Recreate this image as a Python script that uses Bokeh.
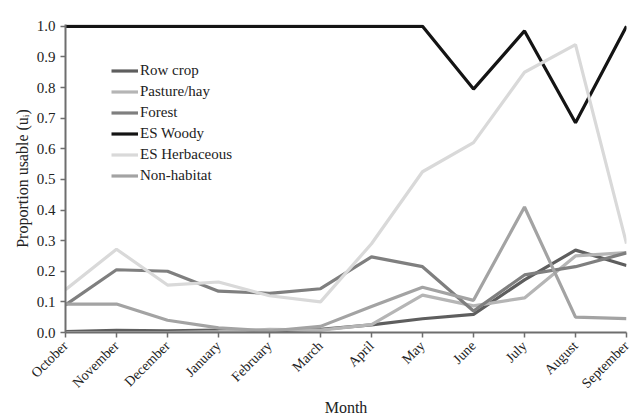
import math
from bokeh.plotting import figure
from bokeh.models import Range1d, FixedTicker, Legend, LegendItem
from bokeh.embed import file_html
from bokeh.resources import INLINE

months = ["October", "November", "December", "January", "February", "March",
          "April", "May", "June", "July", "August", "September"]

row_crop = [0.003, 0.007, 0.005, 0.008, 0.005, 0.010, 0.025, 0.045, 0.059, 0.172, 0.269, 0.219]
pasture_hay = [0.000, 0.000, 0.000, 0.003, 0.010, 0.008, 0.026, 0.122, 0.087, 0.113, 0.250, 0.261]
forest = [0.090, 0.205, 0.200, 0.135, 0.128, 0.143, 0.247, 0.215, 0.070, 0.188, 0.215, 0.260]
es_woody = [1.0, 1.0, 1.0, 1.0, 1.0, 1.0, 1.0, 1.0, 0.795, 0.985, 0.685, 1.0]
es_herb = [0.140, 0.272, 0.155, 0.165, 0.120, 0.100, 0.290, 0.525, 0.620, 0.850, 0.940, 0.290]
non_habitat = [0.093, 0.093, 0.040, 0.015, 0.005, 0.020, 0.085, 0.148, 0.105, 0.410, 0.050, 0.045]

series_names = ["Row crop", "Pasture/hay", "Forest", "ES Woody", "ES Herbaceous", "Non-habitat"]
series_values = [row_crop, pasture_hay, forest, es_woody, es_herb, non_habitat]
colors = ["#5e5e5e", "#b5b5b5", "#7f7f7f", "#141414", "#d9d9d9", "#a3a3a3"]

y_ticks = [0.0, 0.1, 0.2, 0.3, 0.4, 0.5, 0.6, 0.7, 0.8, 0.9, 1.0]

x = list(range(len(months)))
font = "Liberation Serif"

p = figure(width=635, height=409, output_backend="svg", toolbar_location=None,
           x_range=Range1d(0, 11), y_range=Range1d(0, 1.006),
           min_border_left=57, min_border_right=17, min_border_top=14, min_border_bottom=84)
p.margin = (10, 0, 0, 8)

p.outline_line_color = None
p.grid.visible = False
p.background_fill_color = "white"
p.border_fill_color = "white"

items = []
for name, vals, col in zip(series_names, series_values, colors):
    r = p.line(x, vals, line_color=col, line_width=3.2)
    items.append(LegendItem(label=name, renderers=[r]))

legend = Legend(items=items, location=(46, 146), padding=0, margin=0, spacing=0,
                glyph_width=27, glyph_height=21, label_height=21, label_standoff=2,
                label_text_font=font, label_text_font_size="15px",
                label_text_color="#222222", background_fill_alpha=0, border_line_color=None)
p.add_layout(legend, "center")

p.xaxis.ticker = FixedTicker(ticks=x)
p.xaxis.major_label_overrides = {i: m for i, m in enumerate(months)}
p.xaxis.major_label_orientation = math.pi / 4
p.xaxis.axis_label = "Month"
p.yaxis.ticker = FixedTicker(ticks=y_ticks)
p.yaxis.major_label_overrides = {t: f"{t:.1f}" for t in y_ticks}
p.yaxis.axis_label = "Proportion usable (u\u1d62)"

for ax in (p.xaxis[0], p.yaxis[0]):
    ax.axis_line_color = "#6e6e6e"
    ax.axis_line_width = 2
    ax.major_tick_line_color = "#6e6e6e"
    ax.major_tick_line_width = 1.5
    ax.major_tick_in = 0
    ax.major_tick_out = 5
    ax.minor_tick_line_color = None
    ax.major_label_text_font = font
    ax.major_label_text_color = "#222222"
    ax.axis_label_text_font = font
    ax.axis_label_text_font_size = "16px"
    ax.axis_label_text_font_style = "normal"
    ax.axis_label_text_color = "#222222"

p.yaxis.major_label_text_font_size = "15px"
p.xaxis.major_label_text_font_size = "14px"
p.yaxis.major_label_standoff = 5
p.yaxis.axis_label_standoff = 3
p.xaxis.major_label_standoff = 6
p.xaxis.axis_label_standoff = 0

open("out.html", "w").write(file_html(p, INLINE))
